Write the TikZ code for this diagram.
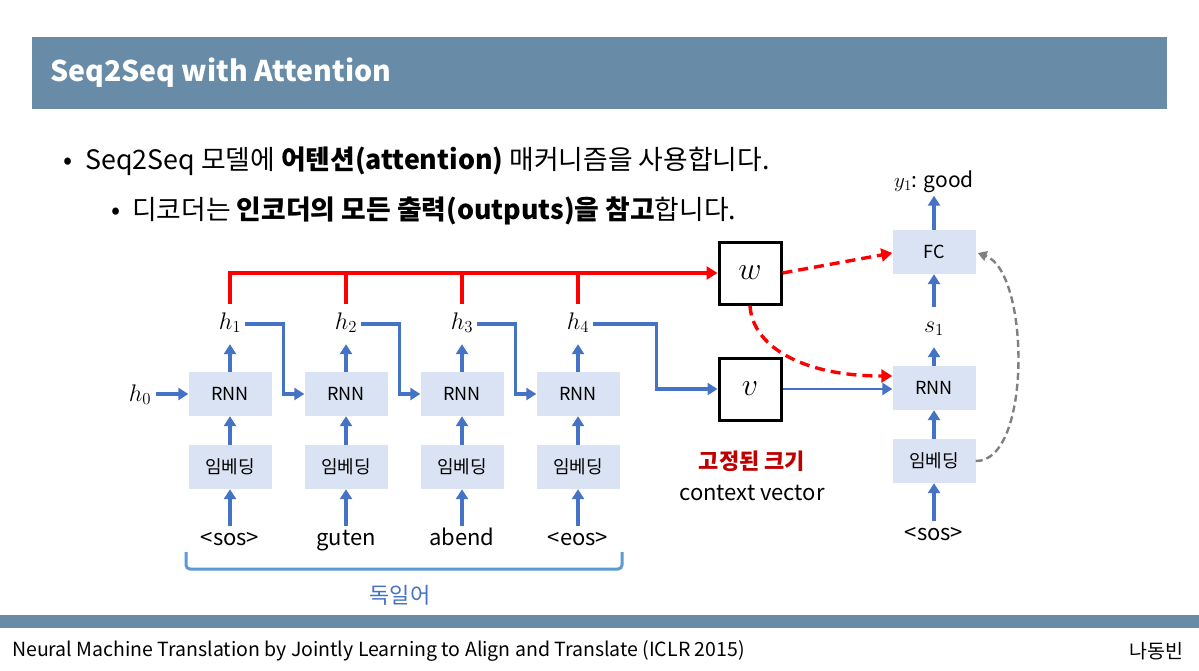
\RequirePackage{fix-cm}
\documentclass[tikz,border=0pt]{standalone}
\usepackage{fontspec}
\setmainfont{Noto Sans CJK KR}
\usetikzlibrary{arrows.meta,calc}
\definecolor{barblue}{HTML}{688CA7}
\definecolor{arrblue}{HTML}{4472C4}
\definecolor{boxfill}{HTML}{DAE3F3}
\definecolor{bracecol}{HTML}{5B9BD5}
\definecolor{darkred}{HTML}{C00000}
\definecolor{redline}{HTML}{FF0000}
\begin{document}
\begin{tikzpicture}[x=1pt,y=-1pt,
  box/.style={fill=boxfill,minimum width=83pt,minimum height=44pt,inner sep=0pt,font=\fontsize{18}{20}\selectfont},
  vbox/.style={draw=black,line width=3pt,minimum width=62pt,minimum height=62pt,inner sep=0pt,font=\fontsize{32}{34}\selectfont},
  hlab/.style={inner xsep=4pt,inner ysep=9pt,text height=16pt,text depth=6pt,font=\fontsize{24}{26}\selectfont},
  word/.style={font=\fontsize{22}{24}\selectfont,inner sep=3pt,text height=16pt,text depth=5pt},
  barr/.style={draw=arrblue,line width=3.4pt,-{Triangle[length=10pt,width=12pt]}},
  rarr/.style={draw=redline,line width=3.6pt,-{Triangle[length=11pt,width=13pt]}},
  rline/.style={draw=redline,line width=3.6pt},
  rdash/.style={draw=redline,line width=3.4pt,dash pattern=on 10pt off 6pt,-{Triangle[length=11pt,width=13pt]}},
  gdash/.style={draw=gray,line width=2.4pt,dash pattern=on 7pt off 4pt,-{Triangle[length=9pt,width=10pt]}}
]
\useasboundingbox (0,0) rectangle (1199,670);
\fill[white] (0,0) rectangle (1199,670);
% title bar
\fill[barblue] (32,37) rectangle (1167,109);
\node[anchor=west,text=white,font=\fontsize{28.5}{30}\selectfont\bfseries,inner sep=0pt] (title) at (50,73) {Seq2Seq with Attention};
% bullets
\node[anchor=west,font=\fontsize{26.8}{28}\selectfont,inner sep=0pt] (b1) at (63,161) {•\hspace{13pt}Seq2Seq 모델에 \textbf{어텐션(attention)} 매커니즘을 사용합니다.};
\node[anchor=west,font=\fontsize{26.8}{28}\selectfont,inner sep=0pt] (b2) at (111,211) {•\hspace{12pt}디코더는 \textbf{인코더의 모든 출력(outputs)을 참고}합니다.};
% encoder
\foreach \i/\x/\w in {1/230/<sos>,2/346/guten,3/462/abend,4/578/<eos>}{
  \node[box] (r\i) at (\x,394) {RNN};
  \node[box] (e\i) at (\x,467) {임베딩};
  \node[word] (wd\i) at (\x,540) {\w};
  \node[hlab] (h\i) at (\x,324) {$h_{\i}$};
  \draw[barr] (wd\i.north) -- (e\i.south);
  \draw[barr] (e\i.north) -- (r\i.south);
  \draw[barr] (r\i.north) -- (h\i.south);
}
\node[hlab,inner xsep=5pt] (h0) at (140,396) {$h_0$};
\draw[barr] (h0.east |- r1.west) -- (r1.west);
% attention boxes
\node[vbox] (w) at (750,273) {$w$};
\node[vbox] (v) at (750,389) {$v$};
% horizontal hidden connections
\draw[barr] (h1.east) -| ($(r1.east)!0.36!(r2.west)$) -- (r2.west);
\draw[barr] (h2.east) -| ($(r2.east)!0.36!(r3.west)$) -- (r3.west);
\draw[barr] (h3.east) -| ($(r3.east)!0.36!(r4.west)$) -- (r4.west);
\draw[barr] (h4.east) -| ($(v.west)+(-61,0)$) -- (v.west);
% red lines
\draw[rarr] (h1.north) |- (w.west);
\draw[rline] (h2.north) -- (h2.north |- w.west);
\draw[rline] (h3.north) -- (h3.north |- w.west);
\draw[rline] (h4.north) -- (h4.north |- w.west);
% labels under v
\node[text=darkred,font=\fontsize{22}{24}\selectfont\bfseries] (fixed) at (752,461) {고정된 크기};
\node[font=\fontsize{22}{24}\selectfont] (ctx) at (752,493) {context vector};
% decoder
\node[box] (fc) at (934,252) {FC};
\node[box] (dr) at (934,388) {RNN};
\node[box] (de) at (934,461) {임베딩};
\node[word] (dsos) at (934,535) {<sos>};
\node[hlab,inner ysep=9pt] (s1) at (934,327) {$s_1$};
\node[word,font=\fontsize{21}{23}\selectfont] (y1) at (934,182) {$y_1$: good};
\draw[barr] (dsos.north) -- (de.south);
\draw[barr] (de.north) -- (dr.south);
\draw[barr] (dr.north) -- (s1.south);
\draw[barr] (s1.north) -- (fc.south);
\draw[barr] (fc.north) -- (y1.south);
\draw[barr,line width=2.6pt] (v.east) -- (v.east -| dr.west);
\draw[rdash] (w.east) -- ($(fc.west)+(0,1)$);
\draw[rdash] (w.south) .. controls (752,345) and (800,376) .. ($(dr.west)+(0,-12)$);
\draw[gdash] (de.east) .. controls (1032,462) and (1030,272) .. ($(fc.east)+(2,1)$);
% brace
\draw[bracecol,line width=3pt,rounded corners=4pt] (186,552) |- (622,569) -- (622,552);
\node[text=arrblue,font=\fontsize{22}{24}\selectfont] (lang) at (400,595) {독일어};
% footer
\fill[barblue] (0,615) rectangle (1199,628);
\node[anchor=west,font=\fontsize{19.5}{21}\selectfont,inner sep=0pt] (foot) at (12,651) {Neural Machine Translation by Jointly Learning to Align and Translate (ICLR 2015)};
\node[anchor=east,font=\fontsize{19.5}{21}\selectfont,inner sep=0pt] (auth) at (1184,651) {나동빈};
\end{tikzpicture}
\end{document}
